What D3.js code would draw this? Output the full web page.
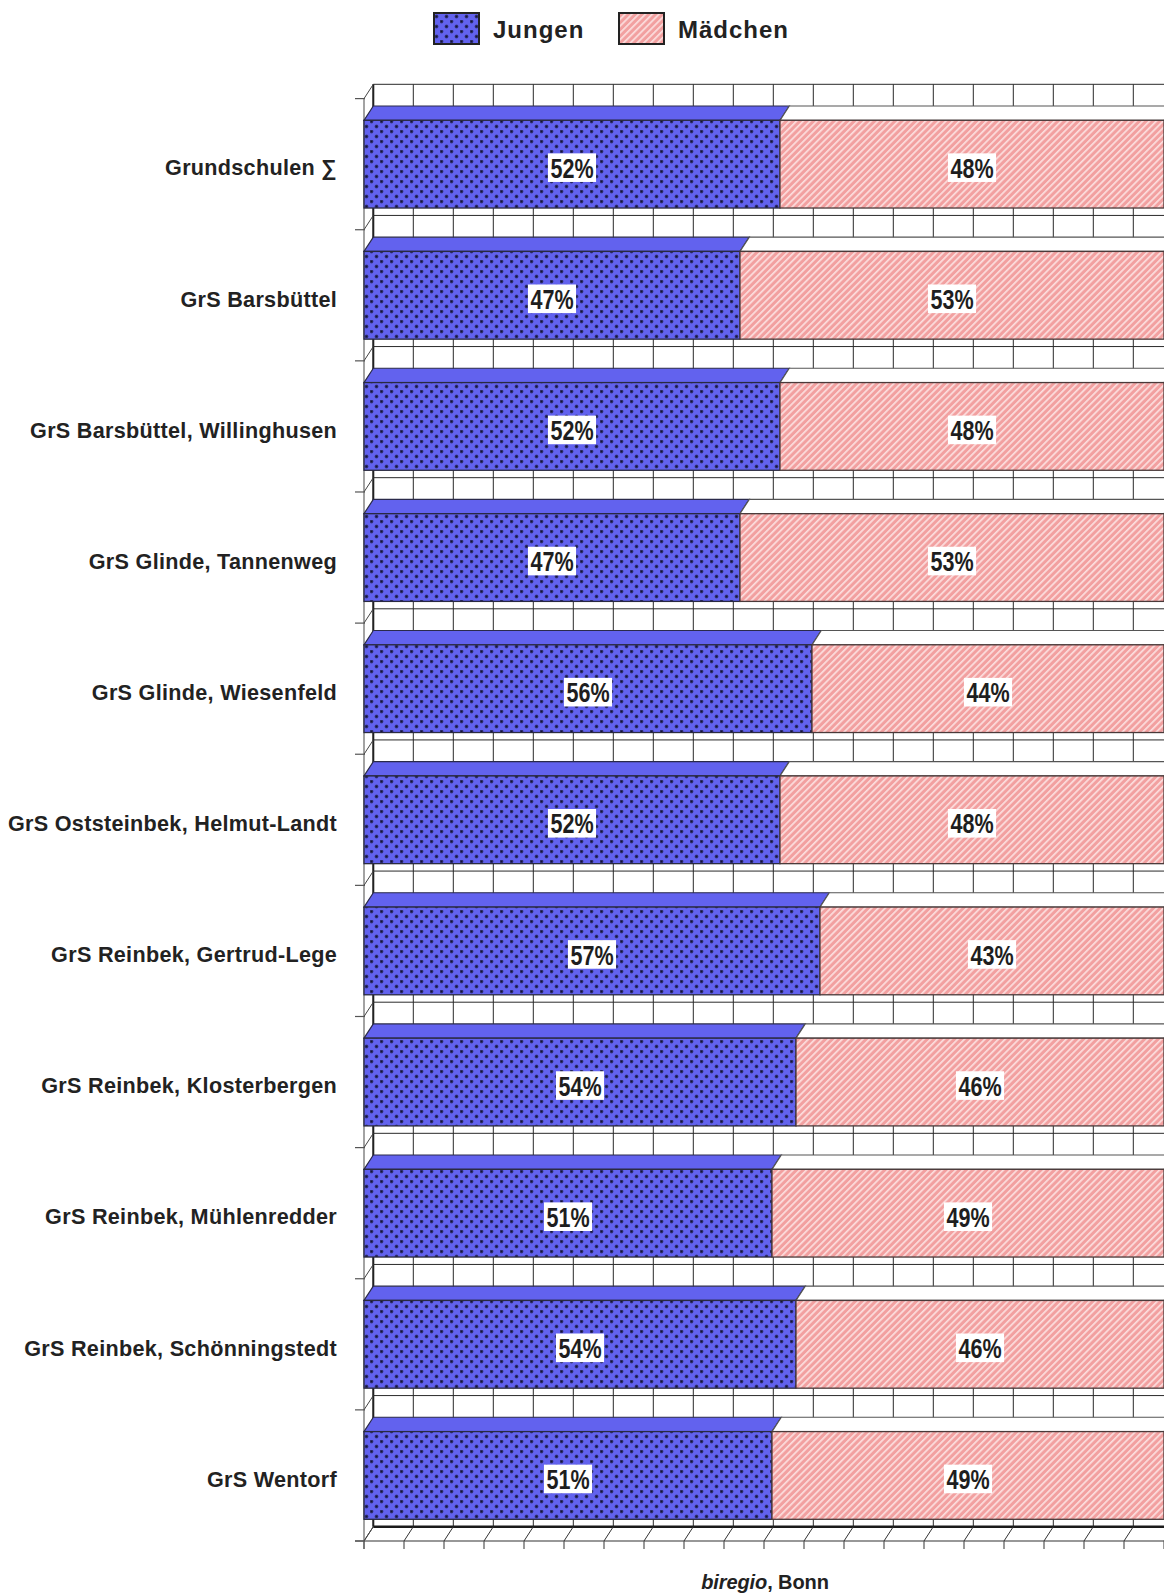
<!DOCTYPE html>
<html>
<head>
<meta charset="utf-8">
<script src="https://cdn.jsdelivr.net/npm/d3@7"></script>
<style>
  html, body { margin: 0; padding: 0; background: #fff; }
  svg { display: block; }
  text { font-family: "Liberation Sans", Arial, Helvetica, sans-serif; fill: #222; }
</style>
</head>
<body>
<svg id="chart" width="1164" height="1593"></svg>
<script>
// Schools (top to bottom) and the share of boys / girls in percent
const categories = [
  "Grundschulen ∑",
  "GrS Barsbüttel",
  "GrS Barsbüttel, Willinghusen",
  "GrS Glinde, Tannenweg",
  "GrS Glinde, Wiesenfeld",
  "GrS Oststeinbek, Helmut-Landt",
  "GrS Reinbek, Gertrud-Lege",
  "GrS Reinbek, Klosterbergen",
  "GrS Reinbek, Mühlenredder",
  "GrS Reinbek, Schönningstedt",
  "GrS Wentorf"
];
const jungen   = [52, 47, 52, 47, 56, 52, 57, 54, 51, 54, 51];
const maedchen = [48, 53, 48, 53, 44, 48, 43, 46, 49, 46, 49];
const seriesNames = ["Jungen", "Mädchen"];
const xTicks = d3.range(0, 101, 5);
const sourceBold = "biregio";
const sourceRest = ", Bonn";

const svg = d3.select("#chart");

// 3D depth offset of the bars and the back wall
const DX = 9.3, DY = -14.3;

const x = d3.scaleLinear().domain([0, 100]).range([364, 1164]);
const y = d3.scaleBand().domain(categories)
  .range([98.6, 1541]).paddingInner(0.331).paddingOuter(0.1655);
const step = y.step();
const boundaries = d3.range(categories.length + 1).map(i => y.range()[0] + i * step);

// ---- fill patterns
const defs = svg.append("defs");
const dots = defs.append("pattern").attr("id", "dots")
  .attr("patternUnits", "userSpaceOnUse").attr("width", 10).attr("height", 10);
dots.append("rect").attr("width", 10).attr("height", 10).attr("fill", "#6262EE");
[[1.5, 1.5], [6.5, 6.5]].forEach(([cx, cy]) => {
  dots.append("circle").attr("cx", cx).attr("cy", cy).attr("r", 1.9).attr("fill", "#3a3a8a");
  dots.append("rect").attr("x", cx - 1).attr("y", cy - 1).attr("width", 2).attr("height", 2).attr("fill", "#15153a");
});
const hatch = defs.append("pattern").attr("id", "hatch")
  .attr("patternUnits", "userSpaceOnUse").attr("width", 4.8).attr("height", 4.8)
  .attr("patternTransform", "rotate(45)");
hatch.append("rect").attr("width", 4.8).attr("height", 4.8).attr("fill", "#F2A0A0");
hatch.append("rect").attr("x", 0).attr("width", 1.7).attr("height", 4.8).attr("fill", "#FCDEDE");

// ---- back wall with grid
const wall = svg.append("g");
const xL = x(0) + DX, xR = x(100) + DX;
const yT = boundaries[0] + DY, yB = boundaries[boundaries.length - 1] + DY;
wall.append("rect").attr("x", xL).attr("y", yT).attr("width", xR - xL).attr("height", yB - yT)
  .attr("fill", "#fff");
wall.selectAll("line.v").data(xTicks).join("line")
  .attr("x1", d => x(d) + DX).attr("x2", d => x(d) + DX)
  .attr("y1", yT).attr("y2", yB)
  .attr("stroke", "#2a2a2a").attr("stroke-width", 1);
wall.selectAll("line.h").data(boundaries).join("line")
  .attr("x1", xL).attr("x2", xR)
  .attr("y1", d => d + DY).attr("y2", d => d + DY)
  .attr("stroke", "#2a2a2a").attr("stroke-width", 1);
// left wall edge and floor edge
wall.append("line").attr("x1", xL).attr("x2", xL).attr("y1", yT).attr("y2", yB)
  .attr("stroke", "#222").attr("stroke-width", 2);
wall.append("line").attr("x1", xL).attr("x2", xR).attr("y1", yB).attr("y2", yB)
  .attr("stroke", "#1a1a1a").attr("stroke-width", 2.5);

// ---- floor: depth lines, front axis and ticks
const floor = svg.append("g");
const yF = boundaries[boundaries.length - 1];
floor.selectAll("line.d").data(xTicks).join("line")
  .attr("x1", d => x(d)).attr("y1", yF).attr("x2", d => x(d) + DX).attr("y2", yF + DY)
  .attr("stroke", "#333").attr("stroke-width", 1);
floor.append("line").attr("x1", x(0) - 9).attr("x2", x(100)).attr("y1", yF).attr("y2", yF)
  .attr("stroke", "#333").attr("stroke-width", 1.2);
floor.selectAll("line.t").data(xTicks).join("line")
  .attr("x1", d => x(d)).attr("x2", d => x(d)).attr("y1", yF).attr("y2", yF + 8)
  .attr("stroke", "#555").attr("stroke-width", 1.2);

// ---- category axis on the left
const axisL = svg.append("g");
axisL.append("line").attr("x1", x(0)).attr("x2", x(0)).attr("y1", boundaries[0]).attr("y2", yF + 8)
  .attr("stroke", "#666").attr("stroke-width", 1.2);
axisL.selectAll("line.s").data(boundaries).join("line")
  .attr("x1", x(0)).attr("y1", d => d).attr("x2", x(0) + DX).attr("y2", d => d + DY)
  .attr("stroke", "#444").attr("stroke-width", 1);
axisL.selectAll("line.k").data(boundaries).join("line")
  .attr("x1", x(0) - 9).attr("x2", x(0) + 1).attr("y1", d => d).attr("y2", d => d)
  .attr("stroke", "#555").attr("stroke-width", 1.2);

// ---- bars
const rows = categories.map((c, i) => ({ c, j: jungen[i], m: maedchen[i] }));
const segs = [];
rows.forEach(r => {
  segs.push({ c: r.c, x0: 0, x1: r.j, v: r.j, s: 0 });
  segs.push({ c: r.c, x0: r.j, x1: r.j + r.m, v: r.m, s: 1 });
});
const topFill = ["#6262EE", "#ffffff"];
const frontFill = ["url(#dots)", "url(#hatch)"];

const bars = svg.append("g");
bars.selectAll("path.top").data(segs).join("path")
  .attr("d", d => {
    const a = x(d.x0), b = x(d.x1), t = y(d.c);
    return `M${a},${t}L${a + DX},${t + DY}L${b + DX},${t + DY}L${b},${t}Z`;
  })
  .attr("fill", d => topFill[d.s])
  .attr("stroke", d => d.s === 0 ? "#2a2a4a" : "#555")
  .attr("stroke-width", 1.2);
bars.selectAll("rect.front").data(segs).join("rect")
  .attr("x", d => x(d.x0)).attr("y", d => y(d.c))
  .attr("width", d => x(d.x1) - x(d.x0)).attr("height", y.bandwidth())
  .attr("fill", d => frontFill[d.s])
  .attr("stroke", d => d.s === 0 ? "#2a2a40" : "#4a3a3a")
  .attr("stroke-width", 1.3);

// ---- value labels with white boxes
const lab = bars.selectAll("g.lab").data(segs).join("g")
  .attr("transform", d => `translate(${(x(d.x0) + x(d.x1)) / 2},${y(d.c) + y.bandwidth() / 2 + 3.5})`);
const labRect = lab.append("rect").attr("fill", "#fff");
const labText = lab.append("text")
  .attr("transform", "scale(0.77,1)")
  .attr("text-anchor", "middle").attr("dy", "0.36em")
  .style("font-size", "28px").style("font-weight", "bold").style("fill", "#1e1e1e")
  .text(d => d.v + "%");
labText.each(function () {
  const w = this.getComputedTextLength() * 0.77 + 5;
  d3.select(this.previousSibling)
    .attr("x", -w / 2).attr("y", -14.3).attr("width", w).attr("height", 28.6);
});

// ---- category labels
svg.append("g").selectAll("text").data(categories).join("text")
  .attr("x", 337).attr("y", d => y(d) + y.bandwidth() / 2 + 3.5)
  .attr("text-anchor", "end").attr("dy", "0.36em")
  .style("font-size", "21.6px").style("font-weight", "bold").style("letter-spacing", "0.3px")
  .text(d => d);

// ---- legend
const legend = svg.append("g");
const legX = [434, 619];
seriesNames.forEach((n, i) => {
  legend.append("rect").attr("x", legX[i]).attr("y", 13).attr("width", 45).attr("height", 31)
    .attr("fill", frontFill[i]).attr("stroke", "#222").attr("stroke-width", 2);
  legend.append("text").attr("x", legX[i] + 59).attr("y", 37.5)
    .style("font-size", "24px").style("font-weight", "bold").style("letter-spacing", "1px")
    .text(n);
});

// ---- source note
const src = svg.append("text").attr("x", (x(0) + x(100)) / 2 + 1).attr("y", 1589)
  .attr("text-anchor", "middle")
  .style("font-size", "20px").style("font-weight", "bold").style("letter-spacing", "-0.1px");
src.append("tspan").style("font-style", "italic").text(sourceBold);
src.append("tspan").text(sourceRest);
</script>
</body>
</html>
